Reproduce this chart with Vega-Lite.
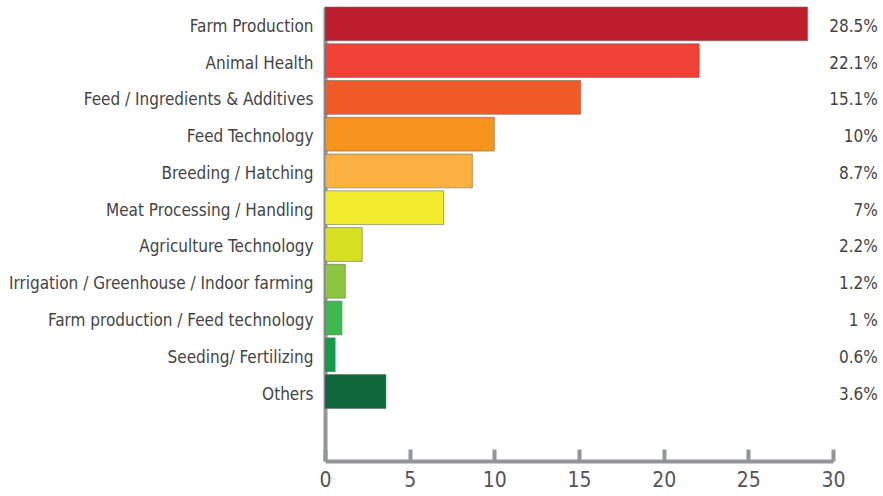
{
  "$schema": "https://vega.github.io/schema/vega-lite/v6.json",
  "autosize": {"type": "none"},
  "padding": {"left": 325, "top": 7, "right": 50, "bottom": 35},
  "width": 508,
  "height": 454,
  "background": "white",
  "config": {
    "view": {"stroke": null},
    "font": "'DejaVu Sans Condensed', Roboto, sans-serif"
  },
  "data": {
    "values": [
      {"category": "Farm Production", "value": 28.5, "label": "28.5%"},
      {"category": "Animal Health", "value": 22.1, "label": "22.1%"},
      {"category": "Feed / Ingredients & Additives", "value": 15.1, "label": "15.1%"},
      {"category": "Feed Technology", "value": 10, "label": "10%"},
      {"category": "Breeding / Hatching", "value": 8.7, "label": "8.7%"},
      {"category": "Meat Processing / Handling", "value": 7, "label": "7%"},
      {"category": "Agriculture Technology", "value": 2.2, "label": "2.2%"},
      {"category": "Irrigation / Greenhouse / Indoor farming", "value": 1.2, "label": "1.2%"},
      {"category": "Farm production / Feed technology", "value": 1, "label": "1 %"},
      {"category": "Seeding/ Fertilizing", "value": 0.6, "label": "0.6%"},
      {"category": "Others", "value": 3.6, "label": "3.6%"}
    ]
  },
  "encoding": {
    "y": {
      "field": "category",
      "type": "nominal",
      "sort": null,
      "scale": {"paddingInner": 0.08, "paddingOuter": 0.715, "align": 0},
      "axis": {
        "title": null,
        "domainColor": "#939598",
        "domainWidth": 4,
        "ticks": false,
        "labelFontSize": 17,
        "labelColor": "#444444",
        "labelPadding": 12,
        "labelOffset": 3,
        "labelLimit": 400
      }
    }
  },
  "layer": [
    {
      "mark": {"type": "bar", "stroke": "#6d6e71", "strokeOpacity": 0.6, "strokeWidth": 1},
      "encoding": {
        "x": {
          "field": "value",
          "type": "quantitative",
          "scale": {"domain": [0, 30], "nice": false},
          "axis": {
            "title": null,
            "values": [0, 5, 10, 15, 20, 25, 30],
            "grid": false,
            "domainColor": "#939598",
            "domainWidth": 4,
            "tickColor": "#939598",
            "tickWidth": 4,
            "tickSize": -12,
            "labelFontSize": 21,
            "labelColor": "#555555",
            "labelPadding": 20,
            "labelFlush": false
          }
        },
        "color": {
          "field": "category",
          "type": "nominal",
          "legend": null,
          "scale": {
            "domain": ["Farm Production", "Animal Health", "Feed / Ingredients & Additives", "Feed Technology", "Breeding / Hatching", "Meat Processing / Handling", "Agriculture Technology", "Irrigation / Greenhouse / Indoor farming", "Farm production / Feed technology", "Seeding/ Fertilizing", "Others"],
            "range": ["#BE1E2D", "#EF4136", "#F15A29", "#F7941D", "#FBB040", "#F3EC2E", "#D7DF23", "#8DC63F", "#3DB94D", "#119D48", "#0D673A"]
          }
        }
      }
    },
    {
      "mark": {"type": "text", "align": "right", "baseline": "middle", "fontSize": 17, "color": "#444444", "dy": 3},
      "encoding": {
        "x": {"datum": 32.65, "type": "quantitative"},
        "text": {"field": "label"}
      }
    }
  ]
}
